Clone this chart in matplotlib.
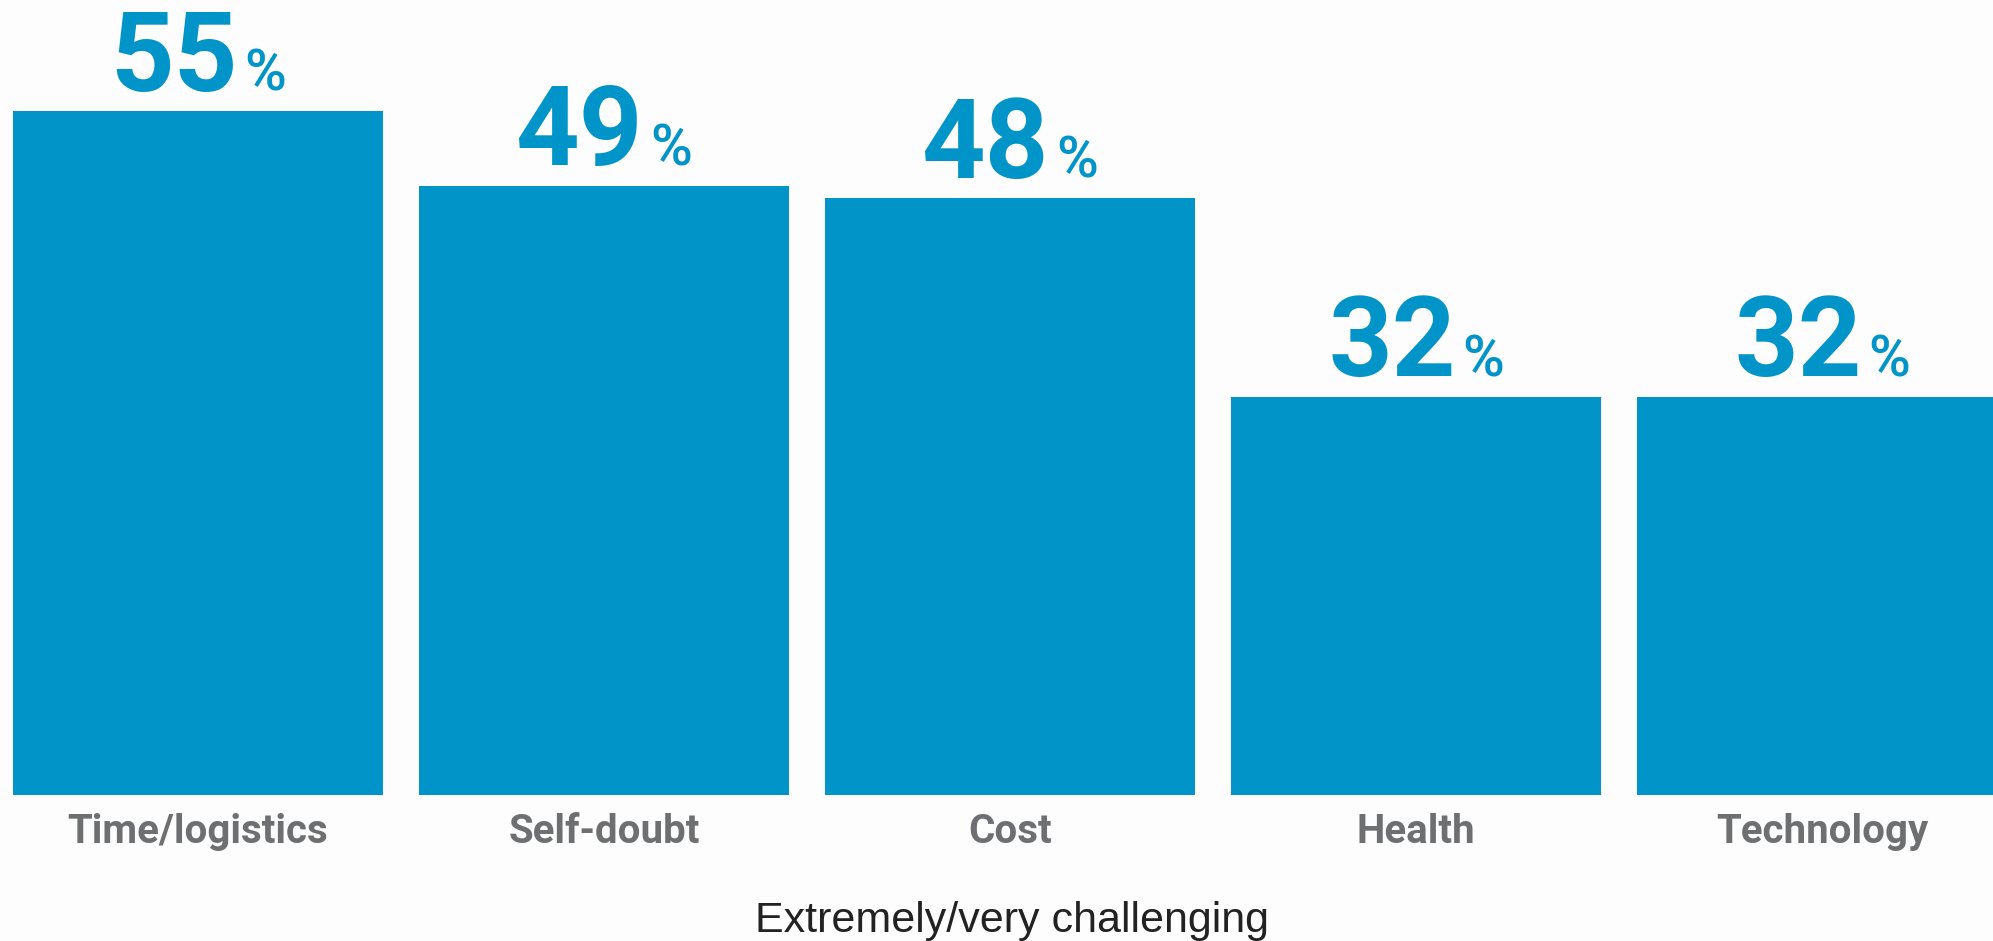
import matplotlib
matplotlib.use("Agg")
import matplotlib.pyplot as plt

categories = ["Time/logistics", "Self-doubt", "Cost", "Health", "Technology"]
values = [55, 49, 48, 32, 32]
axis_title = "Extremely/very challenging"

BLUE = "#0094c8"
GREY = "#6e6f71"
BG = "#fdfdfd"

fig = plt.figure(figsize=(19.93, 9.41), dpi=100)
fig.patch.set_facecolor(BG)

# bars sit on y=0 at 795px from top, axes runs to the top edge
ax = fig.add_axes([0, 1 - 795 / 941, 1, 795 / 941])
ax.set_facecolor(BG)
x = list(range(len(categories)))
ax.bar(x, values, width=0.91, color=BLUE)
ax.set_xlim(-198 / 406, (1993 - 198) / 406)
ax.set_ylim(0, 795 / 12.43)
ax.axis("off")

# category labels under each bar
for xi, cat in zip(x, categories):
    ax.annotate(cat, (xi, 0), xytext=(0, -34.5), textcoords="offset points",
                ha="center", va="baseline", fontsize=29, fontweight="bold",
                family="Roboto", color=GREY)

# value labels: big bold number + small %
fig.canvas.draw()
renderer = fig.canvas.get_renderer()
for xi, v in zip(x, values):
    num = ax.annotate(str(v), (xi, v), xytext=(0, 15), textcoords="offset points",
                      ha="left", va="baseline", fontsize=80, fontweight="bold",
                      family="Roboto", color=BLUE)
    pct = ax.annotate("%", (xi, v), xytext=(0, 15), textcoords="offset points",
                      ha="left", va="baseline", fontsize=41, fontweight="medium",
                      family="Roboto", color=BLUE)
    w_num = num.get_window_extent(renderer).width
    w_pct = pct.get_window_extent(renderer).width
    gap = 6
    total = w_num + gap + w_pct
    k = 72 / fig.dpi
    num.xyann = (-total / 2 * k, 15)
    pct.xyann = ((-total / 2 + w_num + gap) * k, 15)

fig.text(1012 / 1993, 1 - 932 / 941, axis_title, ha="center", va="baseline",
         fontsize=31, family="Liberation Sans", color="#222222")

fig.savefig("out.png", dpi=100, facecolor=BG)
